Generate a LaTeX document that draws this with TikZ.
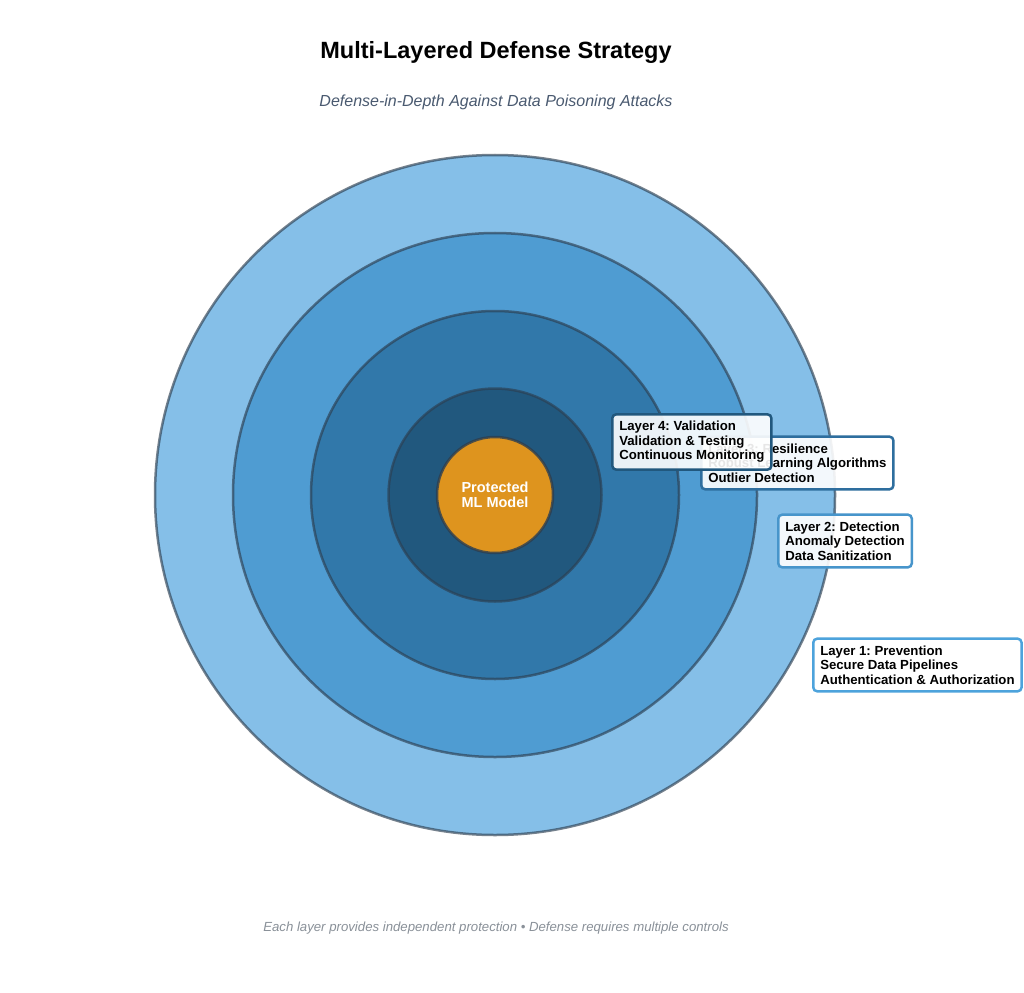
\documentclass[tikz,border=0pt]{standalone}
\usepackage{fontspec}
\setmainfont{Liberation Sans}
\frenchspacing
\definecolor{cA}{HTML}{85BFE8}
\definecolor{cB}{HTML}{4F9CD2}
\definecolor{cC}{HTML}{3178AA}
\definecolor{cD}{HTML}{21587E}
\definecolor{cO}{HTML}{DE941E}
\definecolor{ring}{HTML}{2C3E50}
\definecolor{bA}{HTML}{4DA3DC}
\definecolor{bB}{HTML}{4795CB}
\definecolor{bC}{HTML}{2E6E9E}
\definecolor{bD}{HTML}{21587E}
\definecolor{subc}{HTML}{4A5A70}
\definecolor{footc}{HTML}{8A9199}
\tikzset{
  layer/.style={circle, inner sep=0pt, line width=2.5pt, draw=ring, draw opacity=0.65},
  lbox/.style={anchor=west, align=left, rounded corners=4pt, line width=2.5pt,
     fill=white, fill opacity=0.9, text opacity=1, inner xsep=7pt, inner ysep=7pt,
     font=\fontsize{13.2}{14.5}\selectfont\bfseries}
}
\begin{document}
\begin{tikzpicture}[x=1pt,y=-1pt]
\useasboundingbox[fill=white] (0,0) rectangle (1024,992);
\node[font=\fontsize{23.5}{28}\selectfont\bfseries] (title) at (496,52) {Multi-Layered Defense Strategy};
\node[font=\fontsize{16}{19}\selectfont\itshape, text=subc] (sub) at (496,102) {Defense-in-Depth Against Data Poisoning Attacks};
\node[layer, fill=cA, minimum size=680pt] (l1) at (495,495) {};
\node[layer, fill=cB, minimum size=524pt] (l2) at (495,495) {};
\node[layer, fill=cC, minimum size=368pt] (l3) at (495,495) {};
\node[layer, fill=cD, minimum size=213pt] (l4) at (495,495) {};
\node[layer, fill=cO, minimum size=116pt, text=white, align=center, draw opacity=0.8,
      font=\fontsize{14.5}{15.5}\selectfont\bfseries] (core) at (495,495) {Protected\\ML Model};
\node[lbox, draw=bA] (b1) at (812,665) {Layer 1: Prevention\\Secure Data Pipelines\\Authentication \& Authorization};
\node[lbox, draw=bB] (b2) at (777,541) {Layer 2: Detection\\Anomaly Detection\\Data Sanitization};
\node[lbox, draw=bC] (b3) at (700,463) {Layer 3: Resilience\\Robust Learning Algorithms\\Outlier Detection};
\node[lbox, draw=bD] (b4) at (611,442) {Layer 4: Validation\\Validation \& Testing\\Continuous Monitoring};
\node[font=\fontsize{13.2}{15}\selectfont\itshape, text=footc] (foot) at (496,928) {Each layer provides independent protection • Defense requires multiple controls};
\end{tikzpicture}
\end{document}
